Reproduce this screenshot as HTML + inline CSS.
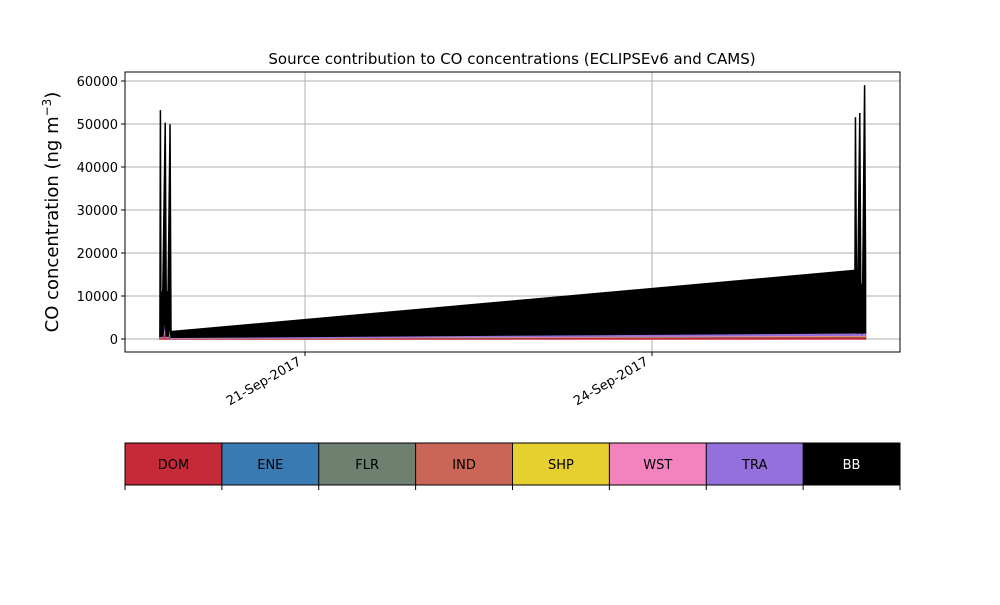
<!DOCTYPE html>
<html><head><meta charset="utf-8"><style>
body{margin:0;background:#fff;font-family:"Liberation Sans","DejaVu Sans",sans-serif}
svg text{font-family:"DejaVu Sans","Liberation Sans",sans-serif}
</style></head><body>
<svg id="chart" width="1000" height="600" xmlns="http://www.w3.org/2000/svg">
<rect width="1000" height="600" fill="#fff"/>
<text x="512" y="64" text-anchor="middle" font-size="15">Source contribution to CO concentrations (ECLIPSEv6 and CAMS)</text>
<text transform="translate(58,212) rotate(-90)" text-anchor="middle" font-size="18">CO concentration (ng m<tspan dy="-7" font-size="12">−3</tspan><tspan dy="7">)</tspan></text>
<g id="grid"></g><g id="areas"></g><g id="axes"></g><g id="legend"></g>
</svg>
<script>
const hours=[17.9,18.0,18.1,18.5,19.0,19.2,19.6,20.0,20.2,162.1,162.2,162.4,162.7,163.1,163.3,163.7,164.1,164.3];
const seriesNames=["DOM","ENE","FLR","IND","SHP","WST","TRA","BB"];
const dom=[200,1500,300,300,1800,300,300,1200,150,550,600,550,520,580,530,520,560,550];
const ene=[20,200,30,30,200,30,30,150,20,60,70,60,60,70,60,60,70,60];
const flr=[5,20,5,5,20,5,5,15,5,10,10,10,10,10,10,10,10,10];
const ind=[30,400,50,50,400,50,50,300,30,120,130,120,110,130,110,110,130,120];
const shp=[20,100,20,20,100,20,20,80,20,60,60,60,60,60,60,60,60,60];
const wst=[30,500,50,50,500,50,50,400,30,100,120,100,100,120,100,100,120,100];
const tra=[100,2500,200,200,2300,200,200,1800,150,550,600,550,520,580,520,500,600,550];
const bb=[2500,48000,9500,10500,45000,10000,10500,46000,1300,14500,50000,14500,12500,51000,11500,11000,57500,14500];
const yTicks=[0,10000,20000,30000,40000,50000,60000];
const xTickHours=[48,120];
const xTickLabels=["21-Sep-2017","24-Sep-2017"];
const colors=["#c52a3a","#3a7ab3","#6e8070","#c96657","#e6d030","#f283bf","#9370db","#000000"];
const NS="http://www.w3.org/2000/svg";
const L=125,R=900,T=72,B=352;
const x=h=>305+(h-48)*4.82;
const y=v=>339-v*258/60000;
function mk(tag,attrs,parent){const e=document.createElementNS(NS,tag);for(const k in attrs)e.setAttribute(k,attrs[k]);parent.appendChild(e);return e;}
const grid=document.getElementById('grid'),areas=document.getElementById('areas'),axes=document.getElementById('axes'),legend=document.getElementById('legend');
yTicks.forEach(v=>{const l=mk('line',{x1:L,x2:R,y1:y(v),y2:y(v),stroke:'#b0b0b0','stroke-width':1},grid);

});
xTickHours.forEach(h=>{const l=mk('line',{x1:x(h),x2:x(h),y1:T,y2:B,stroke:'#b0b0b0','stroke-width':1},grid);

});
const data=[dom,ene,flr,ind,shp,wst,tra,bb];
let base=hours.map(()=>0);
data.forEach((s,i)=>{const top=s.map((v,j)=>base[j]+v);
let d='M'+hours.map((h,j)=>x(h)+','+y(top[j])).join(' L');
for(let j=hours.length-1;j>=0;j--)d+=' L'+x(hours[j])+','+y(base[j]);d+='Z';
const p=mk('path',{d:d,fill:colors[i],stroke:colors[i],'stroke-width':1.5},areas);


base=top;});
const frame=mk('rect',{x:L,y:T,width:R-L,height:B-T,fill:'none',stroke:'#000','stroke-width':1},axes);


yTicks.forEach(v=>{mk('line',{x1:L-4,x2:L,y1:y(v),y2:y(v),stroke:'#000'},axes);
const t=mk('text',{x:L-7,y:y(v)+5,'text-anchor':'end','font-size':13},axes);t.textContent=v;

});
xTickHours.forEach((h,i)=>{mk('line',{x1:x(h),x2:x(h),y1:B,y2:B+4,stroke:'#000'},axes);
const t=mk('text',{transform:`translate(${x(h)-3},${B+12}) rotate(-30)`,'text-anchor':'end','font-size':13},axes);t.textContent=xTickLabels[i];

});
const w=(R-L)/8;
seriesNames.forEach((n,i)=>{const r=mk('rect',{x:L+i*w,y:443,width:w,height:42,fill:colors[i]},legend);


const t=mk('text',{x:L+i*w+w/2,y:469,'text-anchor':'middle','font-size':13,fill:i==7?'#fff':'#000'},legend);t.textContent=n;

});
const lf=mk('rect',{x:L,y:443,width:R-L,height:42,fill:'none',stroke:'#000','stroke-width':1},legend);


for(let i=0;i<=8;i++)mk('line',{x1:L+i*w,x2:L+i*w,y1:443,y2:490,stroke:'#000','stroke-width':1},legend);
</script>
</body></html>
